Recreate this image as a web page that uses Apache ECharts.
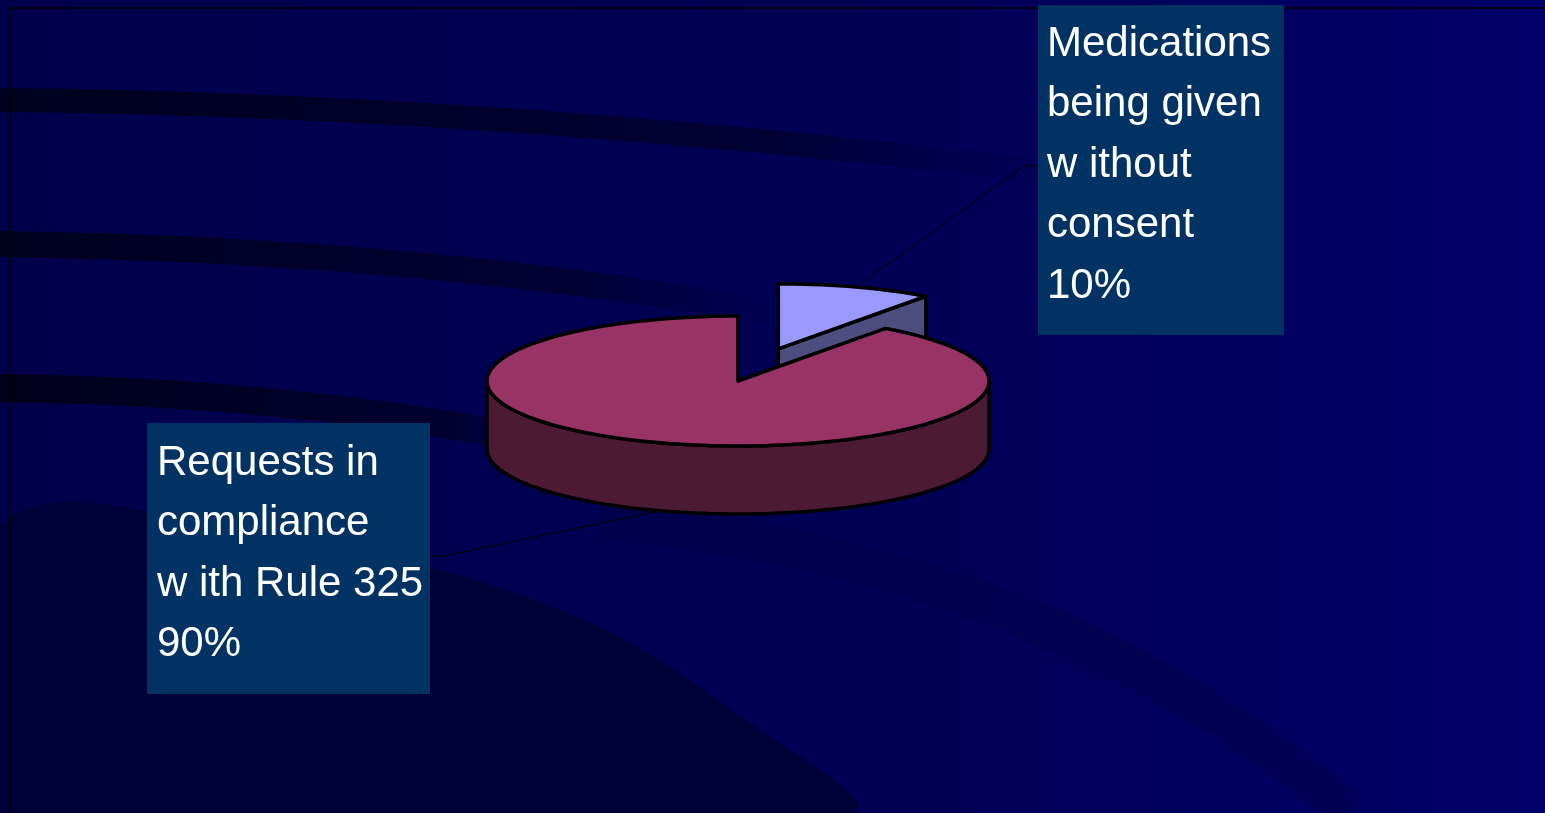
<!DOCTYPE html>
<html>
<head>
<meta charset="utf-8">
<title>Rule 325</title>
<script src="https://cdn.jsdelivr.net/npm/echarts@6/dist/echarts.min.js"></script>
<style>
    html, body { margin: 0; padding: 0; background: #00004c; }
    #chart { width: 1545px; height: 813px; }
</style>
</head>
<body>
<div id="chart"></div>
<script>
// data
var categories = ['Medications\nbeing given\nw ithout\nconsent', 'Requests in\ncompliance\nw ith Rule 325'];
var values = [10, 90];
var topColors = ['#9999ff', '#993366'];
var sideColors = ['#4d4d80', '#4d1a33'];
var explode = [0.52, 0];

// pie geometry (3d look, ellipse)
var cx = 738, cy = 381, rx = 251, ry = 65, depth = 68;

// label boxes
var boxes = [
    {x: 1038, y: 5, w: 246, h: 330, tx: 1047, ty: 14, elbow: [1024, 166], end: [1038, 166]},
    {x: 147, y: 423, w: 283, h: 271, tx: 157, ty: 433, elbow: [444, 556], end: [430, 556]}
];

var total = values.reduce(function (a, b) { return a + b; }, 0);
var starts = [], acc = 0;
for (var i = 0; i < values.length; i++) {
    starts.push(acc / total * Math.PI * 2);
    acc += values[i];
}

function pt(t, ox, oy, dz) {
    return [cx + ox + rx * Math.sin(t), cy + oy - ry * Math.cos(t) + dz];
}

function arc(a, b, ox, oy, dz) {
    var n = Math.max(2, Math.ceil((b - a) / (Math.PI / 90)));
    var pts = [];
    for (var k = 0; k <= n; k++) {
        pts.push(pt(a + (b - a) * k / n, ox, oy, dz));
    }
    return pts;
}

function renderSlice(params, api) {
    var i = params.dataIndex;
    var s = starts[i];
    var e = s + values[i] / total * Math.PI * 2;
    var m = (s + e) / 2;
    var ox = explode[i] * rx * Math.sin(m);
    var oy = -explode[i] * ry * Math.cos(m);
    var base = i * 10;
    var line = {stroke: '#000', lineWidth: 3.5, lineJoin: 'round'};
    var children = [];

    // front outer wall
    var a = Math.max(s, Math.PI / 2), b = Math.min(e, Math.PI * 3 / 2);
    if (b > a) {
        var up = arc(a, b, ox, oy, 0);
        var down = arc(a, b, ox, oy, depth).reverse();
        children.push({type: 'polygon', z2: base + 1, shape: {points: up.concat(down)},
            style: Object.assign({fill: sideColors[i]}, line)});
    }

    // cut walls
    var apex = [cx + ox, cy + oy];
    [[s, -1], [e, 1]].forEach(function (w) {
        if (Math.cos(w[0] + w[1] * Math.PI / 2) < -0.01) {
            var r = pt(w[0], ox, oy, 0);
            children.push({type: 'polygon', z2: base + 2,
                shape: {points: [apex, r, [r[0], r[1] + depth], [apex[0], apex[1] + depth]]},
                style: Object.assign({fill: sideColors[i]}, line)});
        }
    });

    // top face
    children.push({type: 'polygon', z2: base + 3, shape: {points: [apex].concat(arc(s, e, ox, oy, 0))},
        style: Object.assign({fill: topColors[i]}, line)});

    // leader line and label
    var bx = boxes[i];
    var anchor = Math.cos(m) < 0 ? pt(m, ox, oy, depth) : pt(m, ox, oy, 0);
    children.push({type: 'polyline', z2: 0, shape: {points: [anchor, bx.elbow, bx.end]},
        style: {stroke: '#000', lineWidth: 1, fill: null}});
    children.push({type: 'rect', z2: 50, shape: {x: bx.x, y: bx.y, width: bx.w, height: bx.h},
        style: {fill: '#003264'}});
    children.push({type: 'text', z2: 51, x: bx.tx, y: bx.ty,
        style: {
            text: categories[i] + '\n' + Math.round(values[i] / total * 100) + '%',
            fill: '#ffffff', fontSize: 42, fontFamily: '"Liberation Sans", Arial, sans-serif',
            lineHeight: 60.5, align: 'left', verticalAlign: 'top'
        }});

    return {type: 'group', children: children};
}

var myChart = echarts.init(document.getElementById('chart'));

var option = {
    backgroundColor: '#00004c',
    animation: false,
    graphic: [
        {type: 'rect', z: -10, shape: {x: 0, y: 0, width: 1545, height: 813},
            style: {fill: {type: 'linear', x: 0, y: 0, x2: 1, y2: 0,
                colorStops: [{offset: 0, color: '#00004a'}, {offset: 0.6, color: '#000056'}, {offset: 1, color: '#000068'}]}}},
        {type: 'polygon', z: -9, shape: {smooth: 0.4, points: [[0, 525], [300, 545], [560, 610], [760, 730], [850, 813], [0, 813]]},
            style: {fill: '#000038'}},
        {type: 'bezierCurve', z: -8, shape: {x1: 0, y1: 100, cpx1: 500, cpy1: 104, x2: 1100, y2: 178},
            style: {lineWidth: 24, fill: null, stroke: {type: 'linear', x: 0, y: 0, x2: 1, y2: 0,
                colorStops: [{offset: 0, color: '#00001e'}, {offset: 0.7, color: '#000035'}, {offset: 1, color: 'rgba(0,0,76,0)'}]}}},
        {type: 'bezierCurve', z: -8, shape: {x1: 0, y1: 244, cpx1: 450, cpy1: 250, x2: 820, y2: 322},
            style: {lineWidth: 26, fill: null, stroke: {type: 'linear', x: 0, y: 0, x2: 1, y2: 0,
                colorStops: [{offset: 0, color: '#00001e'}, {offset: 0.7, color: '#000035'}, {offset: 1, color: 'rgba(0,0,76,0)'}]}}},
        {type: 'bezierCurve', z: -8, shape: {x1: 0, y1: 388, cpx1: 300, cpy1: 392, x2: 560, y2: 445},
            style: {lineWidth: 28, fill: null, stroke: {type: 'linear', x: 0, y: 0, x2: 1, y2: 0,
                colorStops: [{offset: 0, color: '#00001a'}, {offset: 0.8, color: '#000030'}, {offset: 1, color: 'rgba(0,0,76,0)'}]}}},
        {type: 'bezierCurve', z: -8, shape: {x1: 600, y1: 520, cpx1: 1050, cpy1: 560, x2: 1350, y2: 813},
            style: {lineWidth: 40, fill: null, opacity: 0.3, stroke: '#000040'}},
        {type: 'polyline', z: -5, shape: {points: [[10, 813], [10, 8], [1545, 8]]},
            style: {stroke: '#000000', lineWidth: 1.5, fill: null}}
    ],
    series: [{
        type: 'custom',
        coordinateSystem: 'none',
        renderItem: renderSlice,
        data: values.map(function (v, i) { return {name: categories[i], value: v}; })
    }]
};

myChart.setOption(option);
</script>
</body>
</html>
